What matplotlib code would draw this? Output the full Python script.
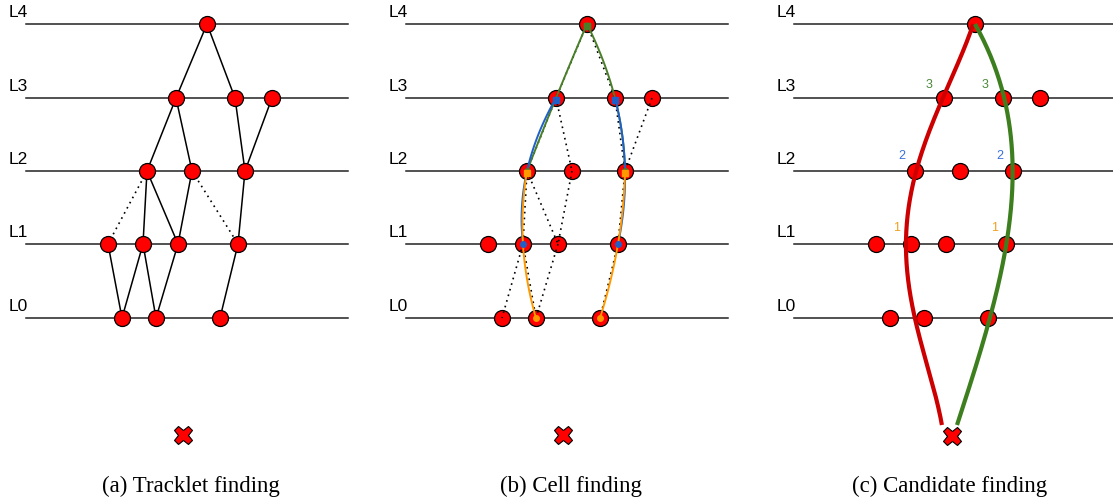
import numpy as np
import matplotlib.pyplot as plt

# layer y positions (L0..L4) in picture pixels
layer_y = [318, 244, 171, 98, 24]
layer_names = ['L0', 'L1', 'L2', 'L3', 'L4']

# hit x positions per layer (panel a frame)
hits = {
    0: [122, 156, 220],
    1: [108, 143, 178, 238],
    2: [147, 192, 245],
    3: [176, 235, 272],
    4: [207],
}

# tracklets: (layer, idx, layer, idx)
solid_a = [(4, 0, 3, 0), (4, 0, 3, 1), (3, 0, 2, 0), (3, 0, 2, 1), (3, 1, 2, 2),
           (3, 2, 2, 2), (2, 0, 1, 1), (2, 0, 1, 2), (2, 1, 1, 2), (2, 2, 1, 3),
           (1, 0, 0, 0), (1, 1, 0, 0), (1, 1, 0, 1), (1, 2, 0, 1), (1, 3, 0, 2)]
dotted_a = [(2, 0, 1, 0), (2, 1, 1, 3)]
dotted_b = [e for e in solid_a if e != (1, 0, 0, 0)]

# the two seeds followed by cells (hit index per layer 4..0)
track_left = [0, 0, 0, 1, 1]
track_right = [0, 1, 2, 3, 2]
cell_colors = {4: '#4a7f2a', 3: '#1f5fc8', 2: '#ff9900'}

# candidate curves in panel c (y, x)
cand_y = [24, 98, 171, 244, 318, 425]
red_x = [973, 944, 914, 908, 914, 942]
green_x = [975, 1004, 1013, 1006, 990, 957]

vertex_x = 183
vertex_y = 435
captions = ['(a) Tracklet finding', '(b) Cell finding', '(c) Candidate finding']
caption_x = [191, 571, 950]
offsets = [0, 380, 768]

fig = plt.figure(figsize=(11.13, 4.99), dpi=100)
ax = fig.add_axes([0, 0, 1, 1])
ax.set_xlim(0, 1113)
ax.set_ylim(499, 0)
ax.axis('off')


def hx(layer, idx, off):
    return hits[layer][idx] + off


for p, off in enumerate(offsets):
    # layer lines and names
    for l in range(5):
        ax.plot([26 + off, 348 + off if p < 2 else 1116], [layer_y[l]] * 2,
                color='#222222', lw=1.1, zorder=1)
        ax.text(9 + off, layer_y[l] - 4, layer_names[l], fontsize=12.5,
                family='Liberation Sans', va='bottom', ha='left')
    # hits
    for l in range(5):
        xs = [x + off for x in hits[l]]
        ax.plot(xs, [layer_y[l]] * len(xs), 'o', ms=11.5, mfc='#ff0000',
                mec='black', mew=0.9, zorder=3)
    ax.plot(vertex_x + (off if p < 2 else 769), vertex_y + (0 if p < 2 else 1), 'X',
            ms=13, mfc='#ff0000', mec='black', mew=0.8, zorder=4)
    ax.text(caption_x[p], 492, captions[p], fontsize=16.5, family='Liberation Serif',
            ha='center', va='baseline')

# panel a
for (l1, i1, l2, i2) in solid_a:
    ax.plot([hx(l1, i1, 0), hx(l2, i2, 0)], [layer_y[l1], layer_y[l2]],
            color='black', lw=1.1, zorder=2)
for (l1, i1, l2, i2) in dotted_a:
    ax.plot([hx(l1, i1, 0), hx(l2, i2, 0)], [layer_y[l1], layer_y[l2]],
            color='black', lw=1.2, ls=(0, (1, 2.5)), zorder=2)

# panel b
off = offsets[1]
for (l1, i1, l2, i2) in dotted_b:
    ax.plot([hx(l1, i1, off), hx(l2, i2, off)], [layer_y[l1], layer_y[l2]],
            color='black', lw=1.2, ls=(0, (1, 2.5)), zorder=4)
for track in (track_left, track_right):
    for start in (4, 3, 2):
        ls = [start, start - 1, start - 2]
        ys = np.array([layer_y[l] for l in ls], dtype=float)
        xs = np.array([hx(l, track[4 - l], off) for l in ls], dtype=float)
        c = np.polyfit(ys, xs, 2)
        yy = np.linspace(ys[0], ys[-1], 60)
        color = cell_colors[start]
        ax.plot(np.polyval(c, yy), yy, color=color, lw=1.4, zorder=5 + (4 - start))
        ax.plot(xs[0], ys[0] + 2, 's', ms=4.5, color=color, zorder=9)
        ax.plot(xs[-1], ys[-1], 'o', ms=4, color=color, zorder=9)

# panel c
for xs, color in ((red_x, '#cc0000'), (green_x, '#3d7f1f')):
    c = np.polyfit(cand_y, xs, 4)
    yy = np.linspace(cand_y[0], cand_y[-1], 200)
    ax.plot(np.polyval(c, yy), yy, color=color, lw=3, solid_capstyle='butt', zorder=5)

labels_c = [('3', 929, 85, '#4a8a3a'), ('3', 985, 85, '#4a8a3a'),
            ('2', 902, 156, '#3a6fd8'), ('2', 1000, 156, '#3a6fd8'),
            ('1', 897, 228, '#f0a020'), ('1', 995, 228, '#f0a020')]
for t, x, y, col in labels_c:
    ax.text(x, y, t, color=col, fontsize=9, family='Liberation Sans',
            ha='center', va='center')

fig.savefig('out.png', dpi=100)
